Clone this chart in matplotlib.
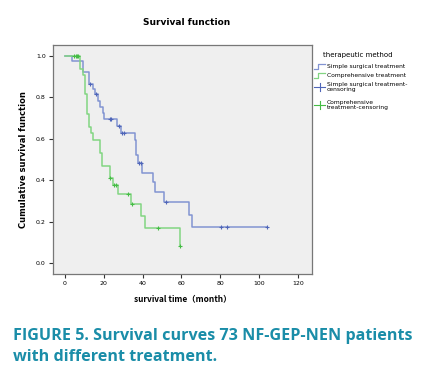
import numpy as np
import matplotlib.pyplot as plt

# Kaplan-Meier step points (month, survival)
surg_t = [0, 3.8, 9.4, 12.5, 14.5, 15.6, 17.3, 18.3, 19.7, 20.2, 26.8, 28.9,
          35.9, 36.8, 37.9, 39.8, 45.6, 46.5, 50.8, 64.1, 65.3, 104.3]
surg_s = [1.0, 0.974, 0.921, 0.865, 0.841, 0.815, 0.783, 0.752, 0.725, 0.695,
          0.664, 0.630, 0.595, 0.521, 0.482, 0.437, 0.391, 0.342, 0.293, 0.235,
          0.177, 0.177]
surg_cens = [12.8, 16.2, 23.4, 23.9, 27.9, 29.4, 30.3, 38.1, 39.0, 52.1,
             80.3, 83.4, 104.3]

comp_t = [0, 8.0, 9.4, 10.6, 11.6, 12.5, 13.5, 14.5, 18.3, 19.3, 23.2, 24.8,
          27.4, 34.2, 39.1, 41.4, 59.5]
comp_s = [1.0, 0.936, 0.908, 0.815, 0.720, 0.656, 0.627, 0.595, 0.531, 0.469,
          0.410, 0.375, 0.333, 0.285, 0.230, 0.169, 0.085]
comp_cens = [4.8, 5.5, 6.2, 6.8, 23.4, 25.5, 26.3, 32.3, 34.4, 48.2, 59.5]

x_ticks = [0, 20, 40, 60, 80, 100, 120]
y_ticks = [0.0, 0.2, 0.4, 0.6, 0.8, 1.0]

blue = '#8294d2'
green = '#82d582'
blue_c = '#5066b8'
green_c = '#45bc45'


def surv_at(times, surv, t):
    idx = np.searchsorted(times, t, side='right') - 1
    return np.asarray(surv)[idx]


fig = plt.figure(figsize=(4.27, 3.81), dpi=100)
ax = fig.add_axes([0.1234, 0.2808, 0.6073, 0.6019])
ax.set_facecolor('#efefef')

ax.step(surg_t, surg_s, where='post', color=blue, lw=1.1)
ax.step(comp_t, comp_s, where='post', color=green, lw=1.1)
ax.plot(surg_cens, surv_at(surg_t, surg_s, surg_cens), '+', color=blue_c,
        ms=3.5, mew=0.8, ls='none')
ax.plot(comp_cens, surv_at(comp_t, comp_s, comp_cens), '+', color=green_c,
        ms=3.5, mew=0.8, ls='none')

ax.set_xlim(-6.3, 127.3)
ax.set_ylim(-0.052, 1.054)
ax.set_xticks(x_ticks)
ax.set_yticks(y_ticks)
ax.set_yticklabels([f'{v:.1f}' for v in y_ticks])
ax.tick_params(labelsize=4.5, length=3, width=0.8, color='#333333', pad=2)
for sp in ax.spines.values():
    sp.set_color('#777777')
    sp.set_linewidth(0.9)

ax.set_xlabel('survival time（month）', fontsize=6, weight='bold',
              family=['Noto Sans CJK SC', 'DejaVu Sans'], labelpad=6)
ax.set_ylabel('Cumulative survival function', fontsize=6, weight='bold',
              labelpad=6)
fig.text(0.436, 0.941, 'Survival function', fontsize=6.5, weight='bold',
         ha='center', va='center')

# legend drawn by hand to the right of the plot
fig.text(0.757, 0.855, 'therapeutic method', fontsize=5, va='center')
leg_items = [
    ('step', blue, 'Simple surgical treatment', 0.825),
    ('step', green, 'Comprehensive treatment', 0.802),
    ('plus', blue_c, 'Simple surgical treatment-\ncensoring', 0.772),
    ('plus', green_c, 'Comprehensive\ntreatment-censoring', 0.724),
]
for kind, col, lab, yy in leg_items:
    if kind == 'step':
        fig.add_artist(plt.Line2D([0.735, 0.745, 0.745, 0.761],
                                  [yy - 0.006, yy - 0.006, yy + 0.006, yy + 0.006],
                                  color=col, lw=0.9))
    else:
        fig.add_artist(plt.Line2D([0.735, 0.762], [yy, yy], color=col, lw=0.8))
        fig.add_artist(plt.Line2D([0.7485, 0.7485], [yy - 0.01, yy + 0.01],
                                  color=col, lw=0.8))
    fig.text(0.766, yy, lab, fontsize=4.3, va='center', linespacing=1.0)

cap = '#1a8da8'
fig.text(0.03, 0.118, 'FIGURE 5. Survival curves 73 NF-GEP-NEN patients',
         fontsize=11.6, weight='bold', color=cap, family='Open Sans',
         va='center')
fig.text(0.03, 0.063, 'with different treatment.', fontsize=11.6,
         weight='bold', color=cap, family='Open Sans', va='center')

fig.savefig('out.png', dpi=100)
